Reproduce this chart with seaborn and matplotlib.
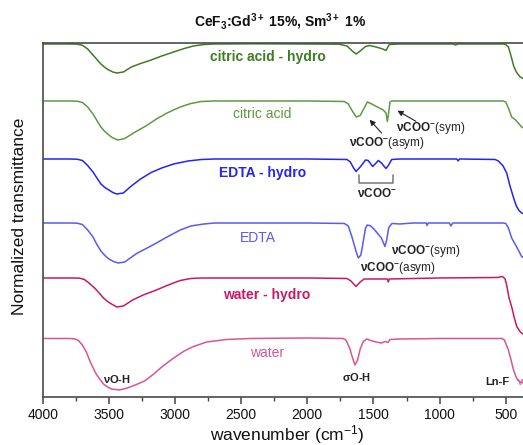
import matplotlib
matplotlib.use("Agg")
import matplotlib.pyplot as plt
import seaborn as sns
import pandas as pd

# ---- FTIR spectra (stacked, arbitrary normalized transmittance units) ----
citric_hydro_wn = [4000, 3800, 3740, 3700, 3660, 3620, 3590, 3560, 3530, 3500, 3470, 3440, 3390, 3330,
                   3260, 3190, 3100, 3010, 2930, 2860, 2780, 2700, 2400, 2000, 1760, 1700, 1660, 1630,
                   1600, 1560, 1530, 1480, 1430, 1405, 1395, 1380, 1300, 900, 880, 860, 520, 500, 480,
                   460, 440, 420, 395, 370, 330]
citric_hydro_t = [35.6, 35.6, 35.58, 35.48, 35.1, 34.5, 34.05, 33.6, 33.25, 33.0, 32.8, 32.7, 32.8, 33.3,
                  33.65, 33.95, 34.4, 34.8, 35.15, 35.4, 35.55, 35.6, 35.62, 35.6, 35.58, 35.4, 34.9,
                  34.6, 34.9, 35.35, 35.45, 35.3, 35.1, 34.95, 35.2, 35.55, 35.6, 35.6, 35.5, 35.6,
                  35.6, 35.55, 35.3, 34.4, 33.4, 32.8, 32.35, 32.15, 32.0]

citric_wn = [4000, 3800, 3740, 3700, 3660, 3620, 3590, 3560, 3530, 3500, 3470, 3430, 3380, 3300, 3220,
             3140, 3060, 2960, 2880, 2800, 2700, 2000, 1720, 1690, 1660, 1630, 1600, 1570, 1546, 1520,
             1470, 1426, 1405, 1395, 1385, 1375, 1360, 1000, 520, 500, 480, 455, 430, 405, 380, 340]
citric_t = [29.9, 29.9, 29.88, 29.75, 29.3, 28.6, 27.95, 27.3, 26.85, 26.5, 26.2, 26.0, 26.15, 26.8, 27.4,
            28.1, 28.7, 29.3, 29.65, 29.85, 29.9, 29.9, 29.85, 29.6, 28.9, 28.3, 28.45, 29.2, 29.8,
            29.65, 29.3, 29.0, 28.7, 27.85, 28.7, 29.8, 29.9, 29.9, 29.9, 29.8, 29.2, 28.3, 28.05, 27.7,
            27.3, 27.0]

edta_hydro_wn = [4000, 3800, 3740, 3700, 3660, 3620, 3590, 3560, 3530, 3500, 3470, 3440, 3390, 3330,
                 3260, 3180, 3100, 3010, 2900, 2800, 2700, 2000, 1700, 1675, 1650, 1632, 1600, 1560, 1540,
                 1506, 1480, 1463, 1440, 1405, 1385, 1362, 1300, 870, 860, 850, 580, 556, 520, 493, 470,
                 443, 420, 400, 380, 340]
edta_hydro_t = [24.1, 24.1, 24.08, 23.95, 23.45, 22.8, 22.2, 21.6, 21.25, 21.0, 20.75, 20.6, 20.7, 21.4,
                22.1, 22.75, 23.2, 23.6, 23.9, 24.05, 24.1, 24.1, 24.05, 23.8, 23.2, 22.85, 23.3, 24.0,
                23.95, 23.35, 23.7, 23.95, 23.7, 23.15, 23.5, 24.05, 24.1, 24.1, 23.9, 24.1, 24.05, 23.9,
                23.4, 22.7, 21.5, 20.3, 19.4, 18.95, 18.7, 18.5]

edta_wn = [4000, 3800, 3740, 3700, 3660, 3620, 3590, 3560, 3530, 3500, 3465, 3430, 3380, 3290, 3210, 3140,
           3060, 2960, 2880, 2780, 2700, 2000, 1720, 1690, 1660, 1630, 1614, 1595, 1575, 1560, 1546, 1520,
           1490, 1440, 1413, 1400, 1385, 1375, 1360, 1300, 1200, 1100, 1095, 1085, 925, 915, 900, 520,
           500, 480, 455, 432, 405, 380, 340]
edta_t = [17.7, 17.7, 17.68, 17.55, 17.0, 16.3, 15.55, 14.9, 14.45, 14.1, 13.85, 13.7, 13.8, 14.65, 15.2,
          15.7, 16.3, 17.0, 17.4, 17.6, 17.7, 17.7, 17.65, 17.4, 16.2, 14.8, 14.2, 14.5, 16.0, 17.2, 17.5,
          17.4, 17.0, 16.2, 15.35, 16.0, 17.2, 17.4, 17.65, 17.6, 17.7, 17.7, 17.45, 17.7, 17.7, 17.4,
          17.7, 17.7, 17.65, 17.2, 16.2, 15.65, 15.0, 14.35, 14.0]

water_hydro_wn = [4000, 3780, 3720, 3685, 3650, 3600, 3570, 3540, 3510, 3480, 3440, 3390, 3320, 3240, 3140,
                  3060, 2960, 2880, 2800, 2000, 1700, 1670, 1632, 1600, 1570, 1500, 1395, 1388, 1380,
                  1000, 560, 525, 505, 493, 475, 455, 435, 417, 395, 379, 340]
water_hydro_t = [12.2, 12.2, 12.18, 12.05, 11.7, 11.1, 10.65, 10.2, 9.85, 9.6, 9.3, 9.4, 10.0, 10.5, 11.0,
                 11.45, 11.95, 12.15, 12.2, 12.2, 12.15, 11.9, 11.35, 11.8, 12.1, 12.1, 12.1, 11.8, 12.1,
                 12.2, 12.25, 12.35, 12.1, 11.5, 10.2, 9.3, 8.2, 7.35, 6.9, 6.67, 6.4]

water_wn = [4000, 3800, 3760, 3730, 3700, 3670, 3640, 3600, 3570, 3540, 3510, 3480, 3420, 3360, 3300, 3230,
            3160, 3100, 3010, 2930, 2860, 2760, 2610, 2430, 2000, 1730, 1708, 1680, 1660, 1640, 1620, 1600,
            1577, 1550, 1520, 1480, 1440, 1410, 1390, 1375, 1300, 1000, 530, 510, 495, 480, 460, 443,
            425, 410, 390, 350]
water_t = [6.15, 6.15, 6.12, 5.95, 5.5, 4.8, 3.8, 2.7, 2.1, 1.6, 1.3, 1.1, 1.0, 1.2, 1.5, 1.9, 2.6, 3.3,
           4.2, 4.9, 5.35, 5.8, 6.05, 6.15, 6.2, 6.15, 6.0, 5.2, 4.3, 3.5, 4.0, 5.1, 5.85, 6.1, 5.95, 5.8,
           5.7, 5.85, 5.75, 6.05, 6.1, 6.15, 6.15, 6.0, 5.5, 5.0, 4.0, 3.1, 2.4, 2.0, 1.8, 1.6]

samples = ["citric acid - hydro", "citric acid", "EDTA - hydro", "EDTA", "water - hydro", "water"]
colors = ["#3d7d22", "#5e9a42", "#2424ee", "#5a5af0", "#c81a64", "#d85592"]
bold_label = [True, False, True, False, True, False]
wavenumbers = [citric_hydro_wn, citric_wn, edta_hydro_wn, edta_wn, water_hydro_wn, water_wn]
transmittance = [citric_hydro_t, citric_t, edta_hydro_t, edta_t, water_hydro_t, water_t]

x_ticks = [4000, 3500, 3000, 2500, 2000, 1500, 1000, 500]

frames = []
for name, wn, t in zip(samples, wavenumbers, transmittance):
    frames.append(pd.DataFrame({"wavenumber": wn, "T": t, "sample": name}))
df = pd.concat(frames, ignore_index=True)

# ---- style ----
sns.set_style("ticks")
plt.rcParams["font.family"] = ["Liberation Sans", "DejaVu Sans"]
plt.rcParams["mathtext.fontset"] = "custom"
plt.rcParams["mathtext.rm"] = "Liberation Sans"
plt.rcParams["mathtext.it"] = "Liberation Sans:italic"
plt.rcParams["mathtext.bf"] = "Liberation Sans:bold"
plt.rcParams["mathtext.sf"] = "Liberation Sans"

fig = plt.figure(figsize=(5.23, 4.45), dpi=100)
ax = fig.add_axes([0.0816, 0.1079, 0.936, 0.7955])

sns.lineplot(data=df, x="wavenumber", y="T", hue="sample", hue_order=samples,
             palette=dict(zip(samples, colors)), estimator=None, sort=True,
             legend=False, linewidth=1.1, ax=ax)

ax.set_xlim(4000, 300)
ax.set_ylim(0.3, 35.7)
ax.set_xticks(x_ticks)
ax.set_xticklabels([str(v) for v in x_ticks])
ax.set_xticks([3750, 3250, 2750, 2250, 1750, 1250, 750], minor=True)
ax.set_yticks([])
ax.tick_params(axis="x", which="major", direction="out", length=5, width=1.1,
               color="#444444", labelsize=10, pad=3, labelcolor="#111111")
ax.tick_params(axis="x", which="minor", direction="out", length=3, width=1.0, color="#444444")
for side in ["left", "top", "bottom"]:
    ax.spines[side].set_color("#4a4a4a")
    ax.spines[side].set_linewidth(1.2)
ax.spines["right"].set_visible(False)

ax.set_xlabel("wavenumber (cm$^{-1}$)", fontsize=12.5, labelpad=1, color="#111111")
ax.set_ylabel("")
fig.text(0.037, 0.515, "Normalized transmittance", rotation=90, ha="center", va="center",
         fontsize=12.5, color="#111111")
fig.text(280 / 523, 1 - 22 / 445,
         r"CeF$_\mathbf{3}$:Gd$^\mathbf{3+}$ 15%, Sm$^\mathbf{3+}$ 1%",
         ha="center", va="center", fontsize=10, fontweight="bold", color="#111111")

# ---- sample names ----
label_pos = [(2297, 34.27), (2342, 28.6), (2335, 22.67), (2370, 16.17), (2304, 10.5), (2301, 4.67)]
for name, c, b, (lx, ly) in zip(samples, colors, bold_label, label_pos):
    ax.text(lx, ly, name, color=c, fontsize=10, ha="center", va="center",
            fontweight="bold" if b else "normal")

# ---- band assignments ----
ann = "#222222"
coo = r"$\mathbf{\nu COO}^{\mathbf{-}}$"
ax.text(1400, 25.67, coo + "(asym)", ha="center", va="center", fontsize=8.5, color=ann)
ax.text(1069, 27.23, coo + "(sym)", ha="center", va="center", fontsize=8.5, color=ann)
ax.annotate("", xy=(1543, 28.23), xytext=(1425, 26.5),
            arrowprops=dict(arrowstyle="-|>", color="#222222", lw=0.8, mutation_scale=8))
ax.annotate("", xy=(1337, 29.07), xytext=(1161, 27.73),
            arrowprops=dict(arrowstyle="-|>", color="#222222", lw=0.8, mutation_scale=8))

ax.plot([1607, 1607, 1350, 1350], [22.5, 21.73, 21.73, 22.5], color="#808080", lw=1.2)
ax.text(1475, 20.67, coo, ha="center", va="center", fontsize=8.5, color=ann)

ax.text(1370, 14.93, coo + "(sym)", ha="left", va="center", fontsize=8.5, color=ann)
ax.text(1602, 13.17, coo + "(asym)", ha="left", va="center", fontsize=8.5, color=ann)

ax.text(3441, 2.1, r"$\mathbf{\nu}$O-H", ha="center", va="center", fontsize=8,
        fontweight="bold", color=ann)
ax.text(1625, 2.33, r"$\mathbf{\sigma}$O-H", ha="center", va="center", fontsize=8,
        fontweight="bold", color=ann)
ax.text(563, 1.83, "Ln-F", ha="center", va="center", fontsize=8, fontweight="bold", color=ann)
ax.text(417, 1.83, "water", ha="left", va="center", fontsize=8, color=colors[5])

fig.savefig("out.png", dpi=100)
